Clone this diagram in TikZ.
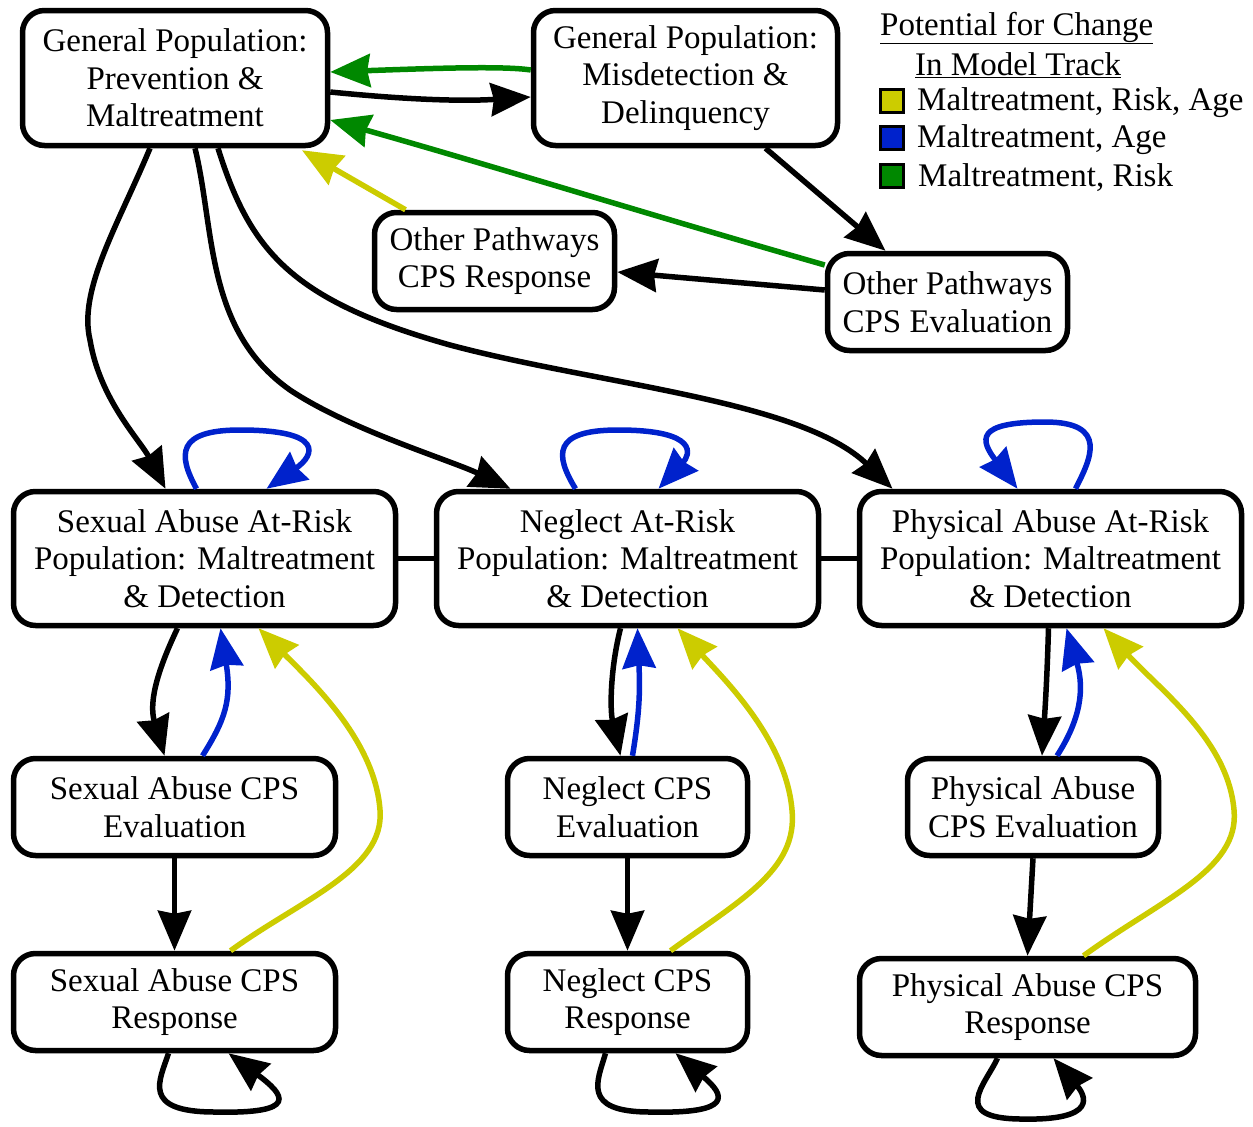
\documentclass[tikz,border=0pt]{standalone}
\usepackage{fontspec}
\setmainfont{Liberation Serif}
\usetikzlibrary{arrows.meta,calc}
\definecolor{chgyellow}{RGB}{204,204,0}
\definecolor{chgblue}{RGB}{0,34,204}
\definecolor{chggreen}{RGB}{0,136,0}
\begin{document}
\begin{tikzpicture}[x=1pt,y=-1pt,
  txt/.style={font=\fontsize{33}{37.5}\selectfont},
  box/.style={txt,draw,line width=5.5pt,rounded corners=22pt,align=center,inner sep=0pt},
  conn/.style={line width=5.5pt,-{Stealth[length=40pt,width=33pt,inset=3pt]}},
  swatch/.style={draw,line width=3pt,minimum size=23pt,inner sep=0pt}]
\useasboundingbox (0,0) rectangle (1253,1127);

% --- boxes ---
\node[box,minimum width=305pt,minimum height=135pt] (GP1) at (175,78)
  {General Population:\\Prevention \&\\Maltreatment};
\node[box,minimum width=304pt,minimum height=135pt] (GP2) at (685.5,78)
  {General Population:\\Misdetection \&\\Delinquency};
\node[box,minimum width=240pt,minimum height=97pt] (OPR) at (494.5,261)
  {Other Pathways\\CPS Response};
\node[box,minimum width=240pt,minimum height=97pt] (OPE) at (947.5,302)
  {Other Pathways\\CPS Evaluation};

\node[box,minimum width=382pt,minimum height=134pt] (SAR) at (204.5,558.5)
  {Sexual Abuse At-Risk\\Population: Maltreatment\\\& Detection};
\node[box,minimum width=382pt,minimum height=134pt] (NAR) at (627.5,558.5)
  {Neglect At-Risk\\Population: Maltreatment\\\& Detection};
\node[box,minimum width=382pt,minimum height=134pt] (PAR) at (1050.5,558.5)
  {Physical Abuse At-Risk\\Population: Maltreatment\\\& Detection};

\node[box,minimum width=322pt,minimum height=97pt] (SAE) at (174.5,807)
  {Sexual Abuse CPS\\Evaluation};
\node[box,minimum width=240pt,minimum height=97pt] (NE) at (627.5,807)
  {Neglect CPS\\Evaluation};
\node[box,minimum width=251pt,minimum height=97pt] (PAE) at (1033,807)
  {Physical Abuse\\CPS Evaluation};

\node[box,minimum width=322pt,minimum height=97pt] (SARs) at (174.5,1002)
  {Sexual Abuse CPS\\Response};
\node[box,minimum width=240pt,minimum height=97pt] (NRs) at (627.5,1002)
  {Neglect CPS\\Response};
\node[box,minimum width=336pt,minimum height=97pt] (PARs) at (1027.5,1007)
  {Physical Abuse CPS\\Response};

% --- legend ---
\node[txt,anchor=west,inner sep=0pt] (lgA) at (880,28) {\underline{Potential for Change}};
\node[txt,anchor=west,inner sep=0pt] (lgB) at (915,65) {\underline{In Model Track}};
\node[swatch,fill=chgyellow] (swY) at (892,101) {};
\node[swatch,fill=chgblue]   (swB) at (892,138) {};
\node[swatch,fill=chggreen]  (swG) at (892,176) {};
\node[txt,anchor=west,inner sep=0pt] (lgY) at (917,103) {Maltreatment, Risk, Age};
\node[txt,anchor=west,inner sep=0pt] (lgBl) at (917,140) {Maltreatment, Age};
\node[txt,anchor=west,inner sep=0pt] (lgG) at (918,178) {Maltreatment, Risk};

% --- links between the at-risk populations ---
\draw[line width=5.5pt] (SAR.east) -- (NAR.west);
\draw[line width=5.5pt] (NAR.east) -- (PAR.west);

% --- general population ---
\draw[conn] ($(GP1.east)+(0,14)$) .. controls (420,101) and (470,101) .. ($(GP2.west)+(0,19)$);
\draw[conn,chggreen] ($(GP2.west)+(0,-8)$) .. controls (505,66) and (440,68) .. ($(GP1.east)+(0,-6)$);
\draw[conn,chggreen] ($(OPE.west)+(0,-37)$) .. controls (650,215) and (500,168) .. ($(GP1.east)+(0,42)$);
\draw[conn,chgyellow] ($(OPR.north)+(-89,0)$) -- ($(GP1.south)+(127,2)$);
\draw[conn] ($(GP2.south)+(80,0)$) -- ($(OPE.north)+(-62,0)$);
\draw[conn] ($(OPE.west)+(0,-12)$) -- ($(OPR.east)+(0,11)$);

\draw[conn] ($(GP1.south)+(-25,0)$) .. controls (118,225) and (78,290) .. (90,340)
  .. controls (100,400) and (140,440) .. ($(SAR.north)+(-39,0)$);
\draw[conn] ($(GP1.south)+(20,0)$) .. controls (215,230) and (205,330) .. (290,390)
  .. controls (350,430) and (450,460) .. ($(NAR.north)+(-117,0)$);
\draw[conn] ($(GP1.south)+(43,0)$) .. controls (250,250) and (290,300) .. (450,345)
  .. controls (600,385) and (800,400) .. ($(PAR.north)+(-158,0)$);

% --- self loops on the at-risk populations ---
\draw[conn,chgblue] ($(SAR.north)+(-8,0)$) .. controls (178,455) and (176,430) .. (240,430)
  .. controls (325,430) and (315,455) .. ($(SAR.north)+(62,0)$);
\draw[conn,chgblue] ($(NAR.north)+(-52,0)$) .. controls (555,455) and (552,430) .. (618,430)
  .. controls (700,430) and (690,455) .. ($(NAR.north)+(31,0)$);
\draw[conn,chgblue] ($(PAR.north)+(25,0)$) .. controls (1090,460) and (1110,422) .. (1045,422)
  .. controls (975,422) and (980,440) .. ($(PAR.north)+(-33,0)$);

% --- sexual abuse track ---
\draw[conn] ($(SAR.south)+(-27,0)$) .. controls (160,665) and (148,700) .. ($(SAE.north)+(-10,0)$);
\draw[conn,chgblue] ($(SAE.north)+(28,0)$) .. controls (225,720) and (232,700) .. ($(SAR.south)+(16,0)$);
\draw[conn,chgyellow] ($(SARs.north)+(56,0)$) .. controls (300,900) and (385,870) .. (380,810)
  .. controls (375,740) and (310,680) .. ($(SAR.south)+(54,0)$);
\draw[conn] (SAE.south) -- (SARs.north);
\draw[conn] ($(SARs.south)+(-6,0)$) .. controls (160,1080) and (140,1112) .. (215,1112)
  .. controls (300,1114) and (285,1095) .. ($(SARs.south)+(54,0)$);

% --- neglect track ---
\draw[conn] ($(NAR.south)+(-7,0)$) .. controls (610,670) and (610,710) .. ($(NE.north)+(-7,0)$);
\draw[conn,chgblue] ($(NE.north)+(5,0)$) .. controls (640,710) and (640,690) .. ($(NAR.south)+(10,0)$);
\draw[conn,chgyellow] ($(NRs.north)+(43,0)$) .. controls (740,900) and (798,870) .. (792,810)
  .. controls (786,740) and (725,680) .. ($(NAR.south)+(50,0)$);
\draw[conn] (NE.south) -- (NRs.north);
\draw[conn] ($(NRs.south)+(-22,0)$) .. controls (598,1080) and (580,1112) .. (650,1112)
  .. controls (735,1114) and (725,1095) .. ($(NRs.south)+(48,0)$);

% --- physical abuse track ---
\draw[conn] ($(PAR.south)+(-2,0)$) .. controls (1047,680) and (1045,710) .. ($(PAE.north)+(9,0)$);
\draw[conn,chgblue] ($(PAE.north)+(24,0)$) .. controls (1080,720) and (1085,690) .. ($(PAR.south)+(16,0)$);
\draw[conn,chgyellow] ($(PARs.north)+(56,0)$) .. controls (1160,900) and (1240,870) .. (1234,810)
  .. controls (1228,740) and (1160,690) .. ($(PAR.south)+(53,0)$);
\draw[conn] (PAE.south) -- (PARs.north);
\draw[conn] ($(PARs.south)+(-30,0)$) .. controls (985,1085) and (950,1118) .. (1020,1119)
  .. controls (1100,1121) and (1085,1095) .. ($(PARs.south)+(26,0)$);
\end{tikzpicture}
\end{document}
